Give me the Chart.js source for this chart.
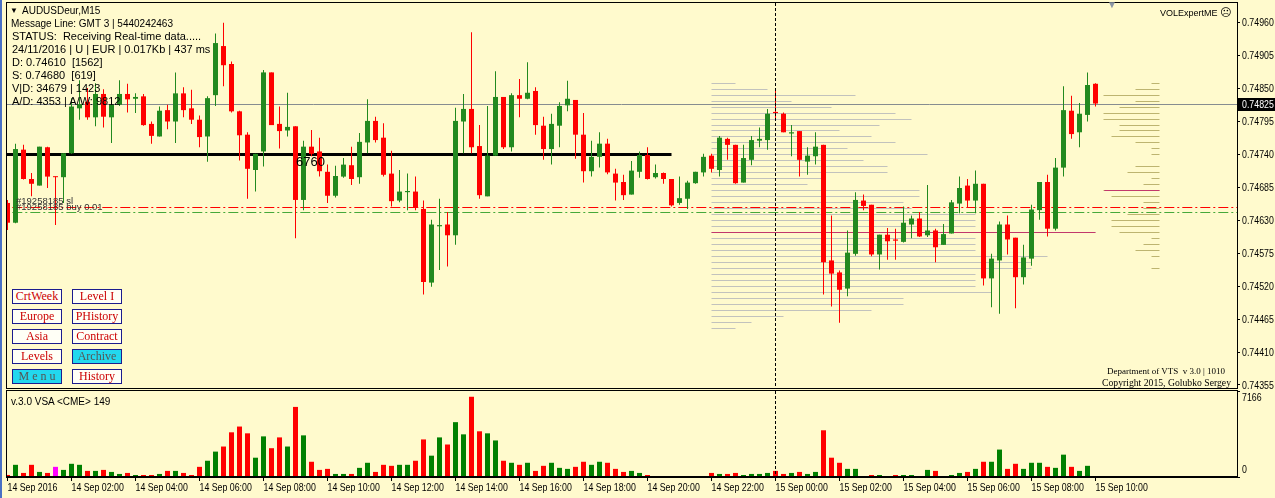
<!DOCTYPE html>
<html>
<head>
<meta charset="utf-8">
<title>AUDUSDeur,M15</title>
<script src="https://cdn.jsdelivr.net/npm/chart.js@4.4.1/dist/chart.umd.min.js"></script>
<style>
  html, body { margin: 0; padding: 0; background: #FFFACD; }
  #stage { position: relative; width: 1275px; height: 498px; overflow: hidden; background: #FFFACD; font-family: 'Liberation Sans', Arial, sans-serif; }
  canvas { position: absolute; left: 0; }
  #priceChart { top: 0; }
  #volumeChart { top: 389px; }
  .edge { position: absolute; left: 0; top: 0; width: 2px; height: 498px; background: #4a70c4; }
  .txt { position: absolute; white-space: pre; color: #000; font-size: 11px; line-height: 13px; }
  .btn { position: absolute; width: 48px; height: 13px; border: 1px solid #1c1c8e; background: #fffff6; color: #cc0000;
         font: 12px/13px 'Liberation Serif', 'Times New Roman', serif; text-align: center; white-space: pre; }
  .btn.on { background: #22d8ee; color: #555; }
  .serif { font-family: 'Liberation Serif', 'Times New Roman', serif; }
</style>
</head>
<body>
<div id="stage">
  <canvas id="priceChart" width="1275" height="390" style="width:1275px;height:390px"></canvas>
  <canvas id="volumeChart" width="1275" height="109" style="width:1275px;height:109px"></canvas>
  <div class="edge"></div>

  <div class="txt" style="left:10px;top:4px;font-size:8px">▼</div>
  <div class="txt" style="left:22px;top:4px;font-size:10px">AUDUSDeur,M15</div>
  <div class="txt" style="left:11px;top:17px;font-size:10px">Message Line: GMT 3 | 5440242463</div>
  <div class="txt" style="left:12px;top:30px">STATUS:  Receiving Real-time data.....</div>
  <div class="txt" style="left:12px;top:43px">24/11/2016 | U | EUR | 0.017Kb | 437 ms</div>
  <div class="txt" style="left:12px;top:56px">D: 0.74610  [1562]</div>
  <div class="txt" style="left:12px;top:69px">S: 0.74680  [619]</div>
  <div class="txt" style="left:12px;top:82px">V|D: 34679 | 1423</div>
  <div class="txt" style="left:12px;top:95px">A/D: 4353 | A/W: 9812</div>

  <div class="txt" style="left:16px;top:194px;font-size:9.5px;color:#333">#19258185 sl</div>
  <div class="txt" style="left:16px;top:200px;font-size:9.5px;color:#333">#19258185 buy 0.01</div>
  <div class="txt" style="left:296px;top:155px;font-size:13px">6760</div>

  <div class="btn" style="left:12px;top:289px">CrtWeek</div>
  <div class="btn" style="left:72px;top:289px">Level I</div>
  <div class="btn" style="left:12px;top:309px">Europe</div>
  <div class="btn" style="left:72px;top:309px">PHistory</div>
  <div class="btn" style="left:12px;top:329px">Asia</div>
  <div class="btn" style="left:72px;top:329px">Contract</div>
  <div class="btn" style="left:12px;top:349px">Levels</div>
  <div class="btn on" style="left:72px;top:349px">Archive</div>
  <div class="btn on" style="left:12px;top:369px">M e n u</div>
  <div class="btn" style="left:72px;top:369px">History</div>

  <div class="txt" style="left:1107px;top:-2px;font-size:10px;color:#8b96a5">▼</div>
  <div class="txt" style="left:1160px;top:6px;font-size:9px">VOLExpertME <span style="font-family:'DejaVu Sans';font-size:11px">☹</span></div>
  <div class="txt serif" style="left:1107px;top:365px;font-size:9px">Department of VTS  v 3.0 | 1010</div>
  <div class="txt serif" style="left:1102px;top:376px;font-size:9.7px">Copyright 2015, Golubko Sergey</div>
  <div class="txt" style="left:11px;top:395px;font-size:10px">v.3.0 VSA &lt;CME&gt; 149</div>
</div>

<script>
// AUDUSD M15 bars, 14 Sep 00:00 .. 15 Sep 10:00
const open = [
  0.74659,0.74626,0.74748,0.74699,0.74688,0.74752,0.74703,0.74702,0.74742,0.74817,
  0.74828,0.74802,0.74841,0.74802,0.74823,0.74841,0.74833,0.74837,0.74791,0.74770,
  0.74814,0.74795,0.74842,0.74817,0.74798,0.74770,0.74839,0.74921,0.74891,0.74812,
  0.74773,0.74714,0.74745,0.74877,0.74791,0.74780,0.74787,0.74664,0.74753,0.74745,
  0.74711,0.74671,0.74703,0.74722,0.74702,0.74760,0.74796,0.74768,0.74708,0.74663,
  0.74677,0.74678,0.74649,0.74526,0.74620,0.74623,0.74605,0.74795,0.74816,0.74754,
  0.74670,0.74738,0.74836,0.74752,0.74839,0.74833,0.74846,0.74788,0.74749,0.74788,
  0.74822,0.74831,0.74773,0.74712,0.74736,0.74758,0.74708,0.74694,0.74673,0.74711,
  0.74739,0.74702,0.74709,0.74699,0.74659,0.74666,0.74692,0.74710,0.74738,0.74714,
  0.74766,0.74756,0.74693,0.74731,0.74763,0.74764,0.74811,0.74808,0.74775,0.74779,
  0.74728,0.74737,0.74756,0.74563,0.74543,0.74516,0.74574,0.74663,0.74656,0.74573,
  0.74606,0.74598,0.74594,0.74623,0.74633,0.74605,0.74613,0.74589,0.74608,0.74658,
  0.74688,0.74663,0.74691,0.74533,0.74563,0.74623,0.74601,0.74535,0.74566,0.74647,
  0.74694,0.74616,0.74718,0.74813,0.74777,0.74806,0.74858
];
const high = [
  0.74664,0.74758,0.74756,0.74709,0.74753,0.74753,0.74703,0.74742,0.74834,0.74864,
  0.74851,0.74859,0.74849,0.74831,0.74864,0.74858,0.74842,0.74841,0.74795,0.74820,
  0.74823,0.74877,0.74852,0.74848,0.74805,0.74837,0.74942,0.74960,0.74895,0.74813,
  0.74777,0.74741,0.74881,0.74877,0.74820,0.74843,0.74787,0.74763,0.74781,0.74768,
  0.74723,0.74721,0.74734,0.74753,0.74776,0.74832,0.74803,0.74792,0.74746,0.74714,
  0.74708,0.74703,0.74663,0.74631,0.74666,0.74644,0.74818,0.74841,0.74944,0.74789,
  0.74821,0.74879,0.74836,0.74842,0.74866,0.74894,0.74852,0.74803,0.74808,0.74827,
  0.74863,0.74831,0.74809,0.74763,0.74777,0.74766,0.74716,0.74706,0.74729,0.74745,
  0.74752,0.74723,0.74710,0.74699,0.74703,0.74696,0.74711,0.74741,0.74741,0.74771,
  0.74768,0.74756,0.74756,0.74771,0.74785,0.74816,0.74848,0.74810,0.74789,0.74779,
  0.74752,0.74777,0.74756,0.74638,0.74546,0.74613,0.74677,0.74673,0.74656,0.74606,
  0.74617,0.74616,0.74653,0.74638,0.74644,0.74689,0.74616,0.74624,0.74664,0.74703,
  0.74699,0.74713,0.74691,0.74574,0.74628,0.74638,0.74601,0.74589,0.74656,0.74694,
  0.74706,0.74734,0.74854,0.74838,0.74826,0.74877,0.74859
];
const low = [
  0.74614,0.74625,0.74698,0.74670,0.74688,0.74684,0.74622,0.74659,0.74741,0.74798,
  0.74798,0.74787,0.74785,0.74759,0.74821,0.74810,0.74809,0.74788,0.74758,0.74770,
  0.74782,0.74759,0.74802,0.74791,0.74752,0.74728,0.74821,0.74854,0.74810,0.74730,
  0.74666,0.74678,0.74720,0.74789,0.74750,0.74770,0.74600,0.74647,0.74737,0.74703,
  0.74659,0.74668,0.74701,0.74689,0.74691,0.74742,0.74760,0.74703,0.74653,0.74660,
  0.74647,0.74647,0.74506,0.74519,0.74547,0.74553,0.74589,0.74742,0.74742,0.74666,
  0.74670,0.74738,0.74749,0.74745,0.74802,0.74832,0.74773,0.74731,0.74723,0.74752,
  0.74812,0.74733,0.74693,0.74703,0.74718,0.74707,0.74663,0.74664,0.74673,0.74701,
  0.74698,0.74700,0.74691,0.74653,0.74656,0.74649,0.74691,0.74703,0.74710,0.74703,
  0.74731,0.74691,0.74693,0.74722,0.74752,0.74748,0.74798,0.74777,0.74737,0.74703,
  0.74706,0.74723,0.74506,0.74486,0.74459,0.74503,0.74571,0.74647,0.74570,0.74548,
  0.74564,0.74564,0.74593,0.74600,0.74602,0.74602,0.74560,0.74589,0.74608,0.74642,
  0.74652,0.74642,0.74521,0.74485,0.74474,0.74573,0.74483,0.74523,0.74554,0.74631,
  0.74603,0.74613,0.74703,0.74766,0.74752,0.74795,0.74820
];
const close = [
  0.74626,0.74749,0.74699,0.74691,0.74753,0.74703,0.74702,0.74742,0.74820,0.74824,
  0.74802,0.74841,0.74803,0.74823,0.74841,0.74832,0.74836,0.74789,0.74771,0.74813,
  0.74795,0.74842,0.74814,0.74798,0.74769,0.74834,0.74926,0.74889,0.74812,0.74772,
  0.74716,0.74741,0.74877,0.74789,0.74779,0.74786,0.74664,0.74753,0.74741,0.74712,
  0.74671,0.74704,0.74723,0.74699,0.74761,0.74796,0.74764,0.74706,0.74662,0.74678,
  0.74679,0.74651,0.74527,0.74623,0.74622,0.74605,0.74796,0.74816,0.74752,0.74672,
  0.74738,0.74836,0.74752,0.74839,0.74833,0.74843,0.74789,0.74749,0.74791,0.74821,
  0.74833,0.74773,0.74712,0.74736,0.74758,0.74710,0.74693,0.74672,0.74713,0.74739,
  0.74699,0.74709,0.74699,0.74655,0.74667,0.74693,0.74711,0.74736,0.74716,0.74768,
  0.74756,0.74692,0.74734,0.74764,0.74766,0.74808,0.74809,0.74777,0.74777,0.74731,
  0.74738,0.74753,0.74560,0.74541,0.74514,0.74576,0.74664,0.74654,0.74573,0.74606,
  0.74595,0.74596,0.74626,0.74633,0.74603,0.74613,0.74585,0.74607,0.74660,0.74684,
  0.74663,0.74691,0.74533,0.74566,0.74623,0.74598,0.74535,0.74568,0.74648,0.74694,
  0.74616,0.74718,0.74814,0.74774,0.74808,0.74856,0.74825
];
const volume = [
  170,1015,338,1015,423,338,846,592,1100,1015,
  508,508,592,423,254,338,169,169,169,254,
  508,508,338,169,846,1354,2116,2539,3724,4204,
  3639,1608,3385,2400,3300,2539,5840,3470,1270,592,
  677,254,254,254,762,1185,423,1015,931,1015,
  1015,1354,3131,1777,3300,2708,4570,3554,6686,3808,
  3639,3046,1354,1185,1015,1185,508,931,1185,762,
  677,846,1270,1015,1270,1185,677,423,508,338,
  169,40,85,85,0,0,0,0,338,254,
  254,338,169,254,254,338,508,254,338,423,
  254,423,3893,1608,1185,677,677,85,169,169,
  85,169,169,169,85,592,508,85,169,338,
  423,677,1270,1270,2285,677,1100,677,1185,1185,
  846,762,1862,846,508,931,85
];
const climaxBars = [6];   // VSA marks this bar magenta

const timeLabels = ['14 Sep 2016','14 Sep 02:00','14 Sep 04:00','14 Sep 06:00','14 Sep 08:00','14 Sep 10:00',
  '14 Sep 12:00','14 Sep 14:00','14 Sep 16:00','14 Sep 18:00','14 Sep 20:00','14 Sep 22:00',
  '15 Sep 00:00','15 Sep 02:00','15 Sep 04:00','15 Sep 06:00','15 Sep 08:00','15 Sep 10:00'];
const BARS_PER_LABEL = 8;
const priceTicks = [0.74960,0.74905,0.74850,0.74795,0.74740,0.74685,0.74630,0.74575,0.74520,0.74465,0.74410,0.74355];
const volTicks = [0, 7166];

// levels
const pivotLevel = 0.74741, pivotEnd = 83;
const slLevel = 0.74653, buyLevel = 0.74644;
const dLevel = 0.74610, sLevel = 0.74680;
const sessionBar = 96;   // 15 Sep 00:00

// volume-at-price, one row per pip from profileTop down
const PIP = 0.0001;
const profileTop = 0.74860;
const profileLeft = [120,280,720,400,600,920,1000,840,640,800,920,680,1080,760,880,880,560,480,1040,1040,
  960,1000,1320,1320,1320,1920,1320,1320,1320,1680,1600,1600,1320,1320,1320,1400,960,960,800,360,200,120];
const profileRight = [40,120,280,120,200,280,280,200,200,240,120,40,40,0,120,160,40,80,280,240,
  80,80,160,240,240,200,40,80,120,40,0,40];
const profileLeftStart = 88, profileRightEnd = 144;
const PROFILE_SCALE = 40;  // volume per bar width

const X_MIN = -0.1875, X_MAX = 153.6875;
const Y_MIN = 0.743483, Y_MAX = 0.749929;

const UP = '#22891f', DOWN = '#ff0000';
const VOL_UP = '#008000', VOL_DOWN = '#ff0000', VOL_CLIMAX = '#ff00ff';
const AXIS_FONT = "11px 'Liberation Sans', Arial, sans-serif";
const AXIS_SQUEEZE = 0.8;   // terminal font is narrow

Chart.defaults.color = '#000';
Chart.defaults.font.family = "'Liberation Sans', sans-serif";

const bars = open.map((_, i) => i);
const candleColors = bars.map(i => close[i] >= open[i] ? UP : DOWN);
const volColors = bars.map(i => climaxBars.includes(i) ? VOL_CLIMAX : (close[i] >= open[i] ? VOL_UP : VOL_DOWN));
const lastPrice = close[close.length - 1];

function axisText(ctx, text, x, y, color) {
  ctx.save();
  ctx.font = AXIS_FONT;
  ctx.fillStyle = color || '#000';
  ctx.textBaseline = 'middle';
  ctx.translate(x, y);
  ctx.scale(AXIS_SQUEEZE, 1);
  ctx.fillText(text, 0, 0);
  ctx.restore();
}

function hLine(ctx, x, y, price, from, to, color, width, dash) {
  const yy = Math.round(y.getPixelForValue(price)) + (width % 2 ? 0.5 : 0);
  ctx.save();
  ctx.strokeStyle = color;
  ctx.lineWidth = width;
  ctx.setLineDash(dash || []);
  ctx.beginPath();
  ctx.moveTo(x.getPixelForValue(from), yy);
  ctx.lineTo(x.getPixelForValue(to), yy);
  ctx.stroke();
  ctx.restore();
}

function sessionLine(chart) {
  const { ctx, chartArea: a, scales: { x } } = chart;
  const xx = Math.round(x.getPixelForValue(sessionBar)) - 0.5;
  ctx.save();
  ctx.strokeStyle = '#000';
  ctx.lineWidth = 1;
  ctx.setLineDash([3, 2]);
  ctx.beginPath();
  ctx.moveTo(xx, a.top);
  ctx.lineTo(xx, a.bottom);
  ctx.stroke();
  ctx.restore();
}

function frame(chart) {
  const { ctx, chartArea: a } = chart;
  ctx.save();
  ctx.strokeStyle = '#000';
  ctx.lineWidth = 1;
  ctx.strokeRect(Math.round(a.left) + 0.5, Math.round(a.top) - 0.5, Math.round(a.right - a.left), Math.round(a.bottom - a.top));
  ctx.restore();
}

const fitAxis = s => { s.width = 38; s.paddingTop = 0; s.paddingBottom = 0; };

const priceOverlay = {
  id: 'priceOverlay',
  beforeDatasetsDraw(chart) {
    const { ctx, chartArea: a, scales: { x, y } } = chart;
    ctx.save();
    ctx.beginPath();
    ctx.rect(a.left, a.top, a.right - a.left, a.bottom - a.top);
    ctx.clip();
    profileLeft.forEach((v, k) => {
      if (v) hLine(ctx, x, y, profileTop - k * PIP, profileLeftStart, profileLeftStart + v / PROFILE_SCALE, '#c2c2bd', 1);
    });
    profileRight.forEach((v, k) => {
      if (v) hLine(ctx, x, y, profileTop - k * PIP, profileRightEnd - v / PROFILE_SCALE, profileRightEnd, '#bdb470', 1);
    });
    hLine(ctx, x, y, lastPrice, X_MIN, X_MAX, '#868c90', 1);
    hLine(ctx, x, y, pivotLevel, X_MIN, pivotEnd, '#000', 3);
    hLine(ctx, x, y, slLevel, 0.6, X_MAX, '#ff0000', 1, [10, 3, 2, 3]);
    hLine(ctx, x, y, buyLevel, 0.6, X_MAX, '#46a83a', 1, [10, 3, 2, 3]);
    hLine(ctx, x, y, dLevel, profileLeftStart, 136, '#c2386c', 1);
    hLine(ctx, x, y, sLevel, 137.1, profileRightEnd, '#c2386c', 1);
    ctx.restore();
  },
  afterDatasetsDraw(chart) {
    sessionLine(chart);
  },
  afterDraw(chart) {
    const { ctx, chartArea: a, scales: { y } } = chart;
    frame(chart);
    y.ticks.forEach(t => axisText(ctx, t.value.toFixed(5), a.right + 5, y.getPixelForValue(t.value) + 0.5));
    const yy = Math.round(y.getPixelForValue(lastPrice));
    ctx.save();
    ctx.fillStyle = '#000';
    ctx.fillRect(a.right + 1, yy - 6, chart.width - a.right - 1, 13);
    ctx.restore();
    axisText(ctx, lastPrice.toFixed(5), a.right + 5, yy + 0.5, '#fff');
  }
};

const volumeOverlay = {
  id: 'volumeOverlay',
  afterDatasetsDraw(chart) {
    sessionLine(chart);
  },
  afterDraw(chart) {
    const { ctx, chartArea: a, scales: { x, y } } = chart;
    frame(chart);
    volTicks.forEach(v => {
      const off = v === volTicks[volTicks.length - 1] ? 7 : -7;
      axisText(ctx, String(v), a.right + 5, y.getPixelForValue(v) + off);
    });
    x.ticks.forEach(t => {
      axisText(ctx, timeLabels[Math.round(t.value / BARS_PER_LABEL)], x.getPixelForValue(t.value), a.bottom + 10.5);
    });
  }
};

new Chart(document.getElementById('priceChart'), {
  type: 'bar',
  data: {
    datasets: [
      {
        label: 'wick',
        data: bars.map(i => ({ x: i, y: [low[i], high[i]] })),
        backgroundColor: candleColors,
        barThickness: 1,
        grouped: false,
        inflateAmount: 0,
        borderWidth: 0,
        order: 2
      },
      {
        label: 'body',
        data: bars.map(i => ({ x: i, y: [Math.min(open[i], close[i]), Math.max(open[i], close[i])] })),
        backgroundColor: candleColors,
        barThickness: 5,
        minBarLength: 1,
        grouped: false,
        inflateAmount: 0,
        borderWidth: 0,
        order: 1
      }
    ]
  },
  options: {
    responsive: false,
    animation: false,
    events: [],
    layout: { padding: { left: 6, top: 3, right: 0, bottom: 1 } },
    plugins: { legend: { display: false }, tooltip: { enabled: false } },
    scales: {
      x: { type: 'linear', min: X_MIN, max: X_MAX, offset: false, display: false, grid: { offset: false } },
      y: {
        type: 'linear', position: 'right', min: Y_MIN, max: Y_MAX, bounds: 'data', beginAtZero: false,
        afterFit: fitAxis,
        afterBuildTicks: s => { s.ticks = priceTicks.map(v => ({ value: v })); },
        ticks: { display: false },
        grid: { drawOnChartArea: false, drawTicks: true, tickLength: 3, color: '#000' },
        border: { display: false }
      }
    }
  },
  plugins: [priceOverlay]
});

new Chart(document.getElementById('volumeChart'), {
  type: 'bar',
  data: {
    datasets: [{
      label: 'volume',
      data: bars.map(i => ({ x: i, y: volume[i] })),
      backgroundColor: volColors,
      barThickness: 5,
      grouped: false,
      inflateAmount: 0,
      borderWidth: 0
    }]
  },
  options: {
    responsive: false,
    animation: false,
    events: [],
    layout: { padding: { left: 6, top: 2, right: 0, bottom: 0 } },
    plugins: { legend: { display: false }, tooltip: { enabled: false } },
    scales: {
      x: {
        type: 'linear', min: X_MIN, max: X_MAX, offset: false, bounds: 'data',
        afterFit: s => { s.height = 21; s.paddingLeft = 0; s.paddingRight = 0; },
        afterBuildTicks: s => { s.ticks = timeLabels.map((_, k) => ({ value: k * BARS_PER_LABEL })); },
        ticks: { display: false },
        grid: { offset: false, drawOnChartArea: false, drawTicks: true, tickLength: 4, color: '#000' },
        border: { display: true, color: '#000' }
      },
      y: {
        type: 'linear', position: 'right', min: volTicks[0], max: volTicks[volTicks.length - 1], bounds: 'data',
        afterFit: fitAxis,
        afterBuildTicks: s => { s.ticks = volTicks.map(v => ({ value: v })); },
        ticks: { display: false },
        grid: { drawOnChartArea: false, drawTicks: true, tickLength: 3, color: '#000' },
        border: { display: false }
      }
    }
  },
  plugins: [volumeOverlay]
});
</script>
</body>
</html>
